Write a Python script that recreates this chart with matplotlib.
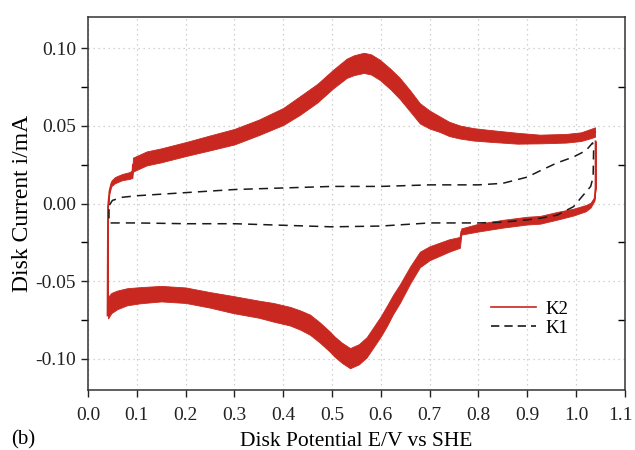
import numpy as np
import matplotlib
matplotlib.use("Agg")
import matplotlib.pyplot as plt
import matplotlib.transforms as mtransforms
from matplotlib.lines import Line2D

plt.rcParams['font.family'] = ['Liberation Serif', 'DejaVu Serif']

# K2: anodic sweep (centre of the noisy trace and its half spread), mA
k2_fwd_x = [0.040, 0.041, 0.044, 0.048, 0.055, 0.070, 0.085, 0.091, 0.092, 0.120,
            0.150, 0.200, 0.250, 0.300, 0.350, 0.400, 0.434, 0.470, 0.502, 0.530,
            0.545, 0.565, 0.580, 0.598, 0.620, 0.639, 0.660, 0.680, 0.700, 0.721,
            0.740, 0.762, 0.790, 0.824, 0.880, 0.926, 0.980, 1.010, 1.030, 1.039]
k2_fwd_y = [-0.072, -0.002, 0.008, 0.013, 0.015, 0.017, 0.018, 0.019, 0.025, 0.029,
            0.031, 0.035, 0.039, 0.043, 0.049, 0.056, 0.063, 0.071, 0.080, 0.087,
            0.089, 0.0905, 0.0895, 0.086, 0.080, 0.074, 0.066, 0.058, 0.054, 0.051,
            0.048, 0.046, 0.0445, 0.0435, 0.042, 0.0415, 0.042, 0.043, 0.045, 0.046]
k2_fwd_spread = [0.0, 0.0, 0.0012, 0.0018, 0.002, 0.002, 0.0022, 0.0025, 0.0045, 0.0045,
                 0.0045, 0.0045, 0.0048, 0.005, 0.005, 0.0055, 0.006, 0.006, 0.006, 0.0062,
                 0.0064, 0.0065, 0.0065, 0.0065, 0.0066, 0.0068, 0.0068, 0.0065, 0.0058, 0.005,
                 0.0046, 0.0042, 0.004, 0.0038, 0.0035, 0.0028, 0.0028, 0.0028, 0.003, 0.003]

# K2: cathodic sweep
k2_rev_x = [1.040, 1.040, 1.038, 1.030, 1.020, 0.995, 0.960, 0.926, 0.900, 0.850,
            0.800, 0.765, 0.762, 0.740, 0.700, 0.680, 0.660, 0.639, 0.625, 0.613,
            0.600, 0.585, 0.571, 0.555, 0.537, 0.520, 0.505, 0.496, 0.475, 0.455,
            0.435, 0.414, 0.380, 0.350, 0.297, 0.250, 0.200, 0.150, 0.107, 0.080,
            0.060, 0.048, 0.041]
k2_rev_y = [0.040, 0.010, 0.003, -0.001, -0.003, -0.0055, -0.008, -0.0105, -0.011, -0.013,
            -0.0155, -0.018, -0.025, -0.027, -0.032, -0.036, -0.046, -0.058, -0.065, -0.072,
            -0.079, -0.086, -0.0925, -0.097, -0.0995, -0.096, -0.092, -0.089, -0.083, -0.078,
            -0.075, -0.0725, -0.070, -0.068, -0.065, -0.062, -0.059, -0.058, -0.059, -0.060,
            -0.062, -0.064, -0.067]
k2_rev_spread = [0.0, 0.0, 0.001, 0.0015, 0.002, 0.0022, 0.0025, 0.0025, 0.0025, 0.0025,
                 0.0025, 0.002, 0.0035, 0.004, 0.0045, 0.005, 0.0055, 0.006, 0.0062, 0.0065,
                 0.0065, 0.0065, 0.0065, 0.0065, 0.0065, 0.0065, 0.0065, 0.0065, 0.0065, 0.0065,
                 0.0062, 0.006, 0.006, 0.0055, 0.0055, 0.005, 0.005, 0.005, 0.0052, 0.0055,
                 0.006, 0.0065, 0.007]

# K1: full cycle
k1_x = [0.044, 0.050, 0.070, 0.100, 0.150, 0.200, 0.300, 0.400, 0.500, 0.600,
        0.700, 0.800, 0.850, 0.900, 0.926, 0.960, 0.995, 1.020, 1.034, 1.036,
        1.035, 1.030, 1.015, 0.995, 0.961, 0.926, 0.900, 0.850, 0.800, 0.700,
        0.600, 0.500, 0.400, 0.300, 0.200, 0.100, 0.050, 0.043, 0.043]
k1_y = [-0.001, 0.002, 0.004, 0.005, 0.006, 0.007, 0.009, 0.010, 0.011, 0.011,
        0.012, 0.012, 0.013, 0.017, 0.021, 0.026, 0.030, 0.034, 0.039, 0.034,
        0.017, 0.011, 0.0055, -0.002, -0.0075, -0.0095, -0.0105, -0.012, -0.0125, -0.0125,
        -0.0145, -0.015, -0.014, -0.013, -0.013, -0.0125, -0.0125, -0.0125, -0.001]

x_ticks = [0.0, 0.1, 0.2, 0.3, 0.4, 0.5, 0.6, 0.7, 0.8, 0.9, 1.0, 1.1]
y_ticks = [-0.10, -0.05, 0.00, 0.05, 0.10]
y_minor = [-0.075, -0.025, 0.025, 0.075]

RED = '#c8281f'

fig = plt.figure(figsize=(6.35, 4.5), dpi=100)
ax = fig.add_axes([0.1386, 0.1333, 0.8454, 0.8289])

# noisy K2 trace: envelope band plus its centre line
for xs, ys, sp in [(k2_fwd_x, k2_fwd_y, k2_fwd_spread),
                   (k2_rev_x, k2_rev_y, k2_rev_spread)]:
    xs, ys, sp = np.array(xs), np.array(ys), np.array(sp)
    ax.fill_between(xs, ys - sp, ys + sp, color=RED, lw=0.6, edgecolor=RED, zorder=2)
    ax.plot(xs, ys, color=RED, lw=1.3, zorder=2, solid_joinstyle='round')

ax.plot(k1_x, k1_y, color='#1a1a1a', lw=1.1, dashes=(6, 4), zorder=3)

ax.set_xlim(0.0, 1.1)
ax.set_ylim(-0.12, 0.12)
ax.set_xticks(x_ticks)
ax.set_xticklabels([f"{v:.1f}" for v in x_ticks])
ax.set_yticks(y_ticks)
ax.set_yticklabels([f"{v:.2f}" for v in y_ticks])
ax.set_yticks(y_minor, minor=True)

ax.grid(True, which='major', color='#c4c4c4', lw=0.9, ls=(0, (1, 3)))
ax.tick_params(axis='both', which='major', direction='out', length=5, width=1,
               labelsize=14, colors='#222222')
ax.tick_params(axis='y', which='minor', direction='out', length=5, width=1)
ax.tick_params(axis='x', pad=7)
for s in ax.spines.values():
    s.set_color('#333333')
    s.set_linewidth(1.1)

# keep the last x label inside the canvas
last = ax.get_xticklabels()[-1]
last.set_transform(last.get_transform() +
                   mtransforms.ScaledTranslation(-3 / 72, 0, fig.dpi_scale_trans))

# inward ticks on the right edge
sec = ax.secondary_yaxis('right')
sec.set_yticks(y_minor)
sec.tick_params(direction='in', length=5, width=1, labelright=False)
sec.spines['right'].set_visible(False)

ax.set_xlabel('Disk Potential E/V vs SHE', fontsize=15.5, labelpad=6)
ax.set_ylabel('Disk Current i/mA', fontsize=17)
ax.yaxis.set_label_coords(-0.103, 0.5)

handles = [Line2D([], [], color=RED, lw=1.2),
           Line2D([], [], color='#1a1a1a', lw=1.2, dashes=(5, 3))]
ax.legend(handles, ['K2', 'K1'], loc='upper left', bbox_to_anchor=(0.72, 0.285),
          frameon=False, fontsize=13.5, handlelength=2.4, handletextpad=0.5,
          labelspacing=0.1)

fig.text(0.018, 0.022, '(b)', fontsize=15, va='center', ha='left')

fig.savefig('out.png', dpi=100)
